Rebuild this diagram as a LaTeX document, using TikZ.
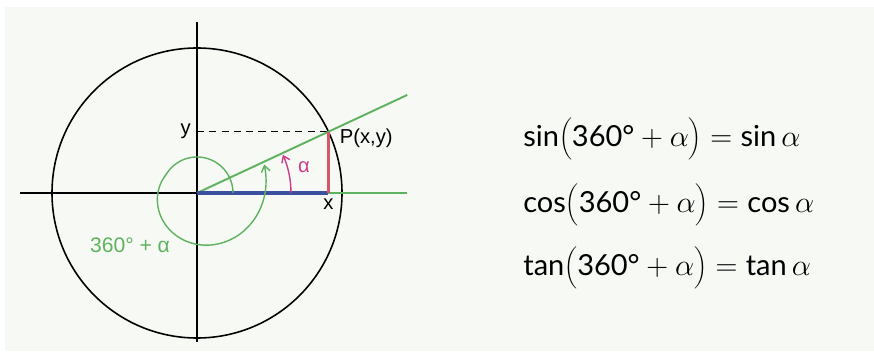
\documentclass[tikz,border=0pt]{standalone}
\usepackage{fontspec}
\setmainfont{Liberation Sans}
\newfontfamily\eqfont{Lato}
\usetikzlibrary{arrows.meta}
\definecolor{paper}{RGB}{247,249,245}
\definecolor{anglegreen}{RGB}{95,178,95}
\definecolor{anglepink}{RGB}{205,60,140}
\definecolor{sinred}{RGB}{212,88,105}
\definecolor{cosblue}{RGB}{60,80,160}
\tikzset{
  lab/.style={font=\fontsize{11.5}{13}\selectfont},
  eq/.style={anchor=west, inner sep=0pt, font=\eqfont\fontsize{16.5}{20}\selectfont},
  turn/.style={line width=0.8pt, -{Straight Barb[length=3.5pt,width=5pt]}}
}
\begin{document}
\begin{tikzpicture}[x=0.02cm,y=0.02cm]
\useasboundingbox (-197,-158) rectangle (677,193);
\fill[color=paper] (-192,-158) rectangle (677,186);

\draw[line width=0.6pt] (-177,0) -- (146,0);
\draw[line width=0.6pt] (0,171) -- (0,-149);
\draw[line width=0.9pt] (0,0) circle (145);

\coordinate (O) at (0,0);
\coordinate (P) at (25:145);
\coordinate (Px) at (P |- O);
\coordinate (Py) at (P -| O);
\coordinate (rayend) at (25:232);
\coordinate (axisend) at (210,0);

\draw[dash pattern=on 4pt off 3pt, line width=0.5pt] (Py) -- (P);
\draw[anglegreen, line width=1.1pt] (O) -- (rayend);
\draw[anglegreen, line width=1.1pt] (Px) -- (axisend);
\draw[cosblue, line width=1.8pt] (O) -- (Px);
\draw[sinred, line width=1.8pt] (Px) -- (P);

\draw[turn, anglepink] (94,0) arc (0:24:94);
% full turn plus alpha, opening out a little
\draw[turn, anglegreen] plot[domain=0:383, samples=120, variable=\t, smooth]
  ({\t}:{36+37*max(0,(\t-150)/233)*(0.6+0.4*max(0,(\t-150)/233))});

\node[lab, left] (ylab) at (Py) {y};
\node[lab, below] (xlab) at (Px) {x};
\node[lab, anchor=north west] (plab) at ([xshift=3pt,yshift=5pt]P) {P(x,y)};
\node[lab, anglepink] (alab) at (107,26) {α};
\node[font=\fontsize{12}{14}\selectfont, anglegreen] (turnlab) at (-67,-52) {360° + α};

\node[eq] (sinrow) at (326,54) {sin$\biggl(\mbox{360°}+\alpha\biggr)={}$sin$\,\alpha$};
\node[eq] (cosrow) at (326,-12) {cos$\biggl(\mbox{360°}+\alpha\biggr)={}$cos$\,\alpha$};
\node[eq] (tanrow) at (326,-75) {tan$\biggl(\mbox{360°}+\alpha\biggr)={}$tan$\,\alpha$};
\end{tikzpicture}
\end{document}
